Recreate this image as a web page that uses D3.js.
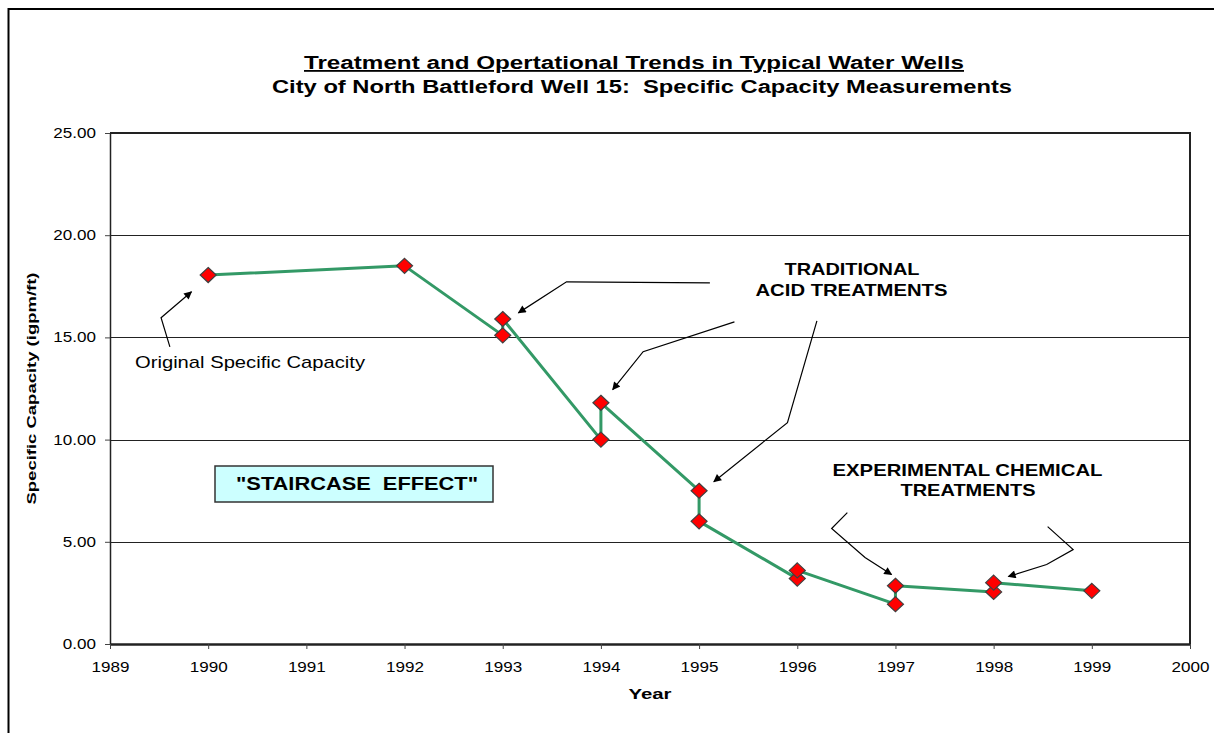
<!DOCTYPE html>
<html>
<head>
<meta charset="utf-8">
<script src="https://cdn.jsdelivr.net/npm/d3@7"></script>
<style>
  body { margin: 0; background: #fff; }
  svg { display: block; font-family: "Liberation Sans", Arial, sans-serif; }
</style>
</head>
<body>
<svg id="chart" width="1214" height="733"></svg>
<script>
const years = [1990, 1992, 1993, 1993, 1994, 1994, 1995, 1995, 1996, 1996, 1997, 1997, 1998, 1998, 1999];
const capacity = [18.05, 18.5, 15.1, 15.9, 10.0, 11.8, 7.5, 6.0, 3.2, 3.6, 1.95, 2.85, 2.55, 3.0, 2.6];
const yTicks = [0, 5, 10, 15, 20, 25];
const xTicks = [1989, 1990, 1991, 1992, 1993, 1994, 1995, 1996, 1997, 1998, 1999, 2000];

// arrows for the annotations, in [year, capacity] units
const arrowOriginal = [[1989.61, 14.54], [1989.52, 15.96], [1989.83, 17.23]];
const arrowAcid93 = [[1995.11, 17.67], [1993.65, 17.72], [1993.16, 16.2]];
const arrowAcid94 = [[1995.36, 15.76], [1994.43, 14.3], [1994.12, 12.44]];
const arrowAcid95 = [[1996.2, 15.81], [1995.9, 10.83], [1995.15, 7.94]];
const arrowChem97 = [[1996.51, 6.43], [1996.35, 5.65], [1996.69, 4.23], [1996.96, 3.4]];
const arrowChem98 = [[1998.55, 5.74], [1998.81, 4.62], [1998.54, 3.89], [1998.15, 3.3]];

const svg = d3.select("#chart");
const width = +svg.attr("width");
const height = +svg.attr("height");

// the original text is a bit wider than plain Arial, so stretch it
const SX = 1.22;
function stretch(sel, k) {
    sel.each(function() {
        const t = d3.select(this);
        const x = +t.attr("x") || 0;
        const y = +t.attr("y") || 0;
        t.attr("x", 0).attr("y", 0)
            .attr("transform", `translate(${x},${y}) scale(${k},1)`);
    });
}

// outer chart border (runs off the right and bottom of the picture)
svg.append("rect")
    .attr("x", 8.5).attr("y", 9)
    .attr("width", width).attr("height", height)
    .attr("fill", "#fff")
    .attr("stroke", "#000")
    .attr("stroke-width", 2);

const margin = { top: 133, right: 24, bottom: 89, left: 110 };

const x = d3.scaleLinear()
    .domain([1989, 2000])
    .range([margin.left, width - margin.right]);

const y = d3.scaleLinear()
    .domain([0, 25])
    .range([height - margin.bottom, margin.top]);

// gridlines
svg.append("g")
    .selectAll("line")
    .data(yTicks.filter(d => d > 0 && d < 25))
    .join("line")
        .attr("x1", x(1989))
        .attr("x2", x(2000))
        .attr("y1", d => Math.round(y(d)) + 0.5)
        .attr("y2", d => Math.round(y(d)) + 0.5)
        .attr("stroke", "#222")
        .attr("stroke-width", 1);

// plot frame: top and right
svg.append("path")
    .attr("d", `M${x(1989)},${y(25)}H${x(2000)}V${y(0)}`)
    .attr("fill", "none")
    .attr("stroke", "#222")
    .attr("stroke-width", 2);

// Y axis
const yAxis = svg.append("g")
    .attr("transform", `translate(${x(1989)},0)`)
    .call(d3.axisLeft(y).tickValues(yTicks).tickFormat(d3.format(".2f")).tickSize(5).tickPadding(9).tickSizeOuter(0))
    .call(g => g.select(".domain").attr("stroke", "#222").attr("stroke-width", 1.5));
yAxis.selectAll("text")
    .attr("font-size", 14)
    .attr("font-family", "Liberation Sans, Arial, sans-serif")
    .attr("fill", "#000")
    .attr("text-anchor", "end")
    .call(stretch, SX);
yAxis.selectAll(".tick line").attr("stroke", "#444");

// X axis
const xAxis = svg.append("g")
    .attr("transform", `translate(0,${y(0)})`)
    .call(d3.axisBottom(x).tickValues(xTicks).tickFormat(d3.format("d")).tickSize(5).tickPadding(13).tickSizeOuter(0))
    .call(g => g.select(".domain").attr("stroke", "#222").attr("stroke-width", 2.5));
xAxis.selectAll("text")
    .attr("font-size", 14)
    .attr("font-family", "Liberation Sans, Arial, sans-serif")
    .attr("fill", "#000")
    .call(stretch, SX);
xAxis.selectAll(".tick line").attr("stroke", "#444");

// axis titles
svg.append("text")
    .attr("x", (x(1989) + x(2000)) / 2)
    .attr("y", 699)
    .attr("text-anchor", "middle")
    .attr("font-size", 15.5)
    .attr("font-weight", "bold")
    .attr("textLength", 43)
    .attr("lengthAdjust", "spacingAndGlyphs")
    .text("Year");

svg.append("text")
    .attr("transform", `translate(36,${(y(0) + y(25)) / 2}) rotate(-90)`)
    .attr("text-anchor", "middle")
    .attr("font-size", 13.5)
    .attr("font-weight", "bold")
    .attr("textLength", 232)
    .attr("lengthAdjust", "spacingAndGlyphs")
    .text("Specific Capacity (igpm/ft)");

// chart titles
svg.append("text")
    .attr("x", 634).attr("y", 69)
    .attr("text-anchor", "middle")
    .attr("font-size", 18)
    .attr("font-weight", "bold")
    .attr("text-decoration", "underline")
    .attr("textLength", 660)
    .attr("lengthAdjust", "spacingAndGlyphs")
    .text("Treatment and Opertational Trends in Typical Water Wells");

svg.append("text")
    .attr("x", 642).attr("y", 93)
    .attr("text-anchor", "middle")
    .attr("font-size", 18)
    .attr("font-weight", "bold")
    .attr("textLength", 740)
    .attr("lengthAdjust", "spacingAndGlyphs")
    .style("white-space", "pre")
    .text("City of North Battleford Well 15:  Specific Capacity Measurements");

// arrow marker
svg.append("defs").append("marker")
    .attr("id", "head")
    .attr("viewBox", "0 0 10 10")
    .attr("refX", 9).attr("refY", 5)
    .attr("markerWidth", 10).attr("markerHeight", 8)
    .attr("markerUnits", "userSpaceOnUse")
    .attr("orient", "auto")
    .append("path")
        .attr("d", "M0,0L10,5L0,10z")
        .attr("fill", "#000");

const arrowLine = d3.line().x(d => x(d[0])).y(d => y(d[1]));
svg.append("g")
    .selectAll("path")
    .data([arrowOriginal, arrowAcid93, arrowAcid94, arrowAcid95, arrowChem97, arrowChem98])
    .join("path")
        .attr("d", arrowLine)
        .attr("fill", "none")
        .attr("stroke", "#000")
        .attr("stroke-width", 1.2)
        .attr("marker-end", "url(#head)");

// data line
const points = years.map((yr, i) => [yr, capacity[i]]);
svg.append("path")
    .datum(points)
    .attr("d", d3.line().x(d => x(d[0])).y(d => y(d[1])))
    .attr("fill", "none")
    .attr("stroke", "#339966")
    .attr("stroke-width", 3)
    .attr("stroke-linejoin", "round");

// diamonds
svg.append("g")
    .selectAll("path")
    .data(points)
    .join("path")
        .attr("transform", d => `translate(${x(d[0])},${y(d[1])})`)
        .attr("d", "M0,-7.5L8,0L0,7.5L-8,0Z")
        .attr("fill", "#ff0000")
        .attr("stroke", "#404040")
        .attr("stroke-width", 1.2);

// annotations
svg.append("text")
    .attr("x", 135).attr("y", 368)
    .attr("font-size", 17)
    .attr("textLength", 230)
    .attr("lengthAdjust", "spacingAndGlyphs")
    .text("Original Specific Capacity");

const boldNotes = [
    { t: "TRADITIONAL", cx: 852, by: 275, w: 135 },
    { t: "ACID TREATMENTS", cx: 851.5, by: 296, w: 192 },
    { t: "EXPERIMENTAL CHEMICAL", cx: 967.5, by: 476, w: 270 },
    { t: "TREATMENTS", cx: 968, by: 496, w: 135 }
];
svg.append("g")
    .selectAll("text")
    .data(boldNotes)
    .join("text")
        .attr("x", d => d.cx)
        .attr("y", d => d.by)
        .attr("text-anchor", "middle")
        .attr("font-size", 16.5)
        .attr("font-weight", "bold")
        .attr("textLength", d => d.w)
        .attr("lengthAdjust", "spacingAndGlyphs")
        .text(d => d.t);

// "STAIRCASE EFFECT" box
svg.append("rect")
    .attr("x", 215).attr("y", 466)
    .attr("width", 278).attr("height", 36)
    .attr("fill", "#ccffff")
    .attr("stroke", "#333")
    .attr("stroke-width", 1.5);

svg.append("text")
    .attr("x", 357).attr("y", 490)
    .attr("text-anchor", "middle")
    .attr("font-size", 18)
    .attr("font-weight", "bold")
    .attr("textLength", 242)
    .attr("lengthAdjust", "spacingAndGlyphs")
    .style("white-space", "pre")
    .text("\"STAIRCASE  EFFECT\"");
</script>
</body>
</html>
